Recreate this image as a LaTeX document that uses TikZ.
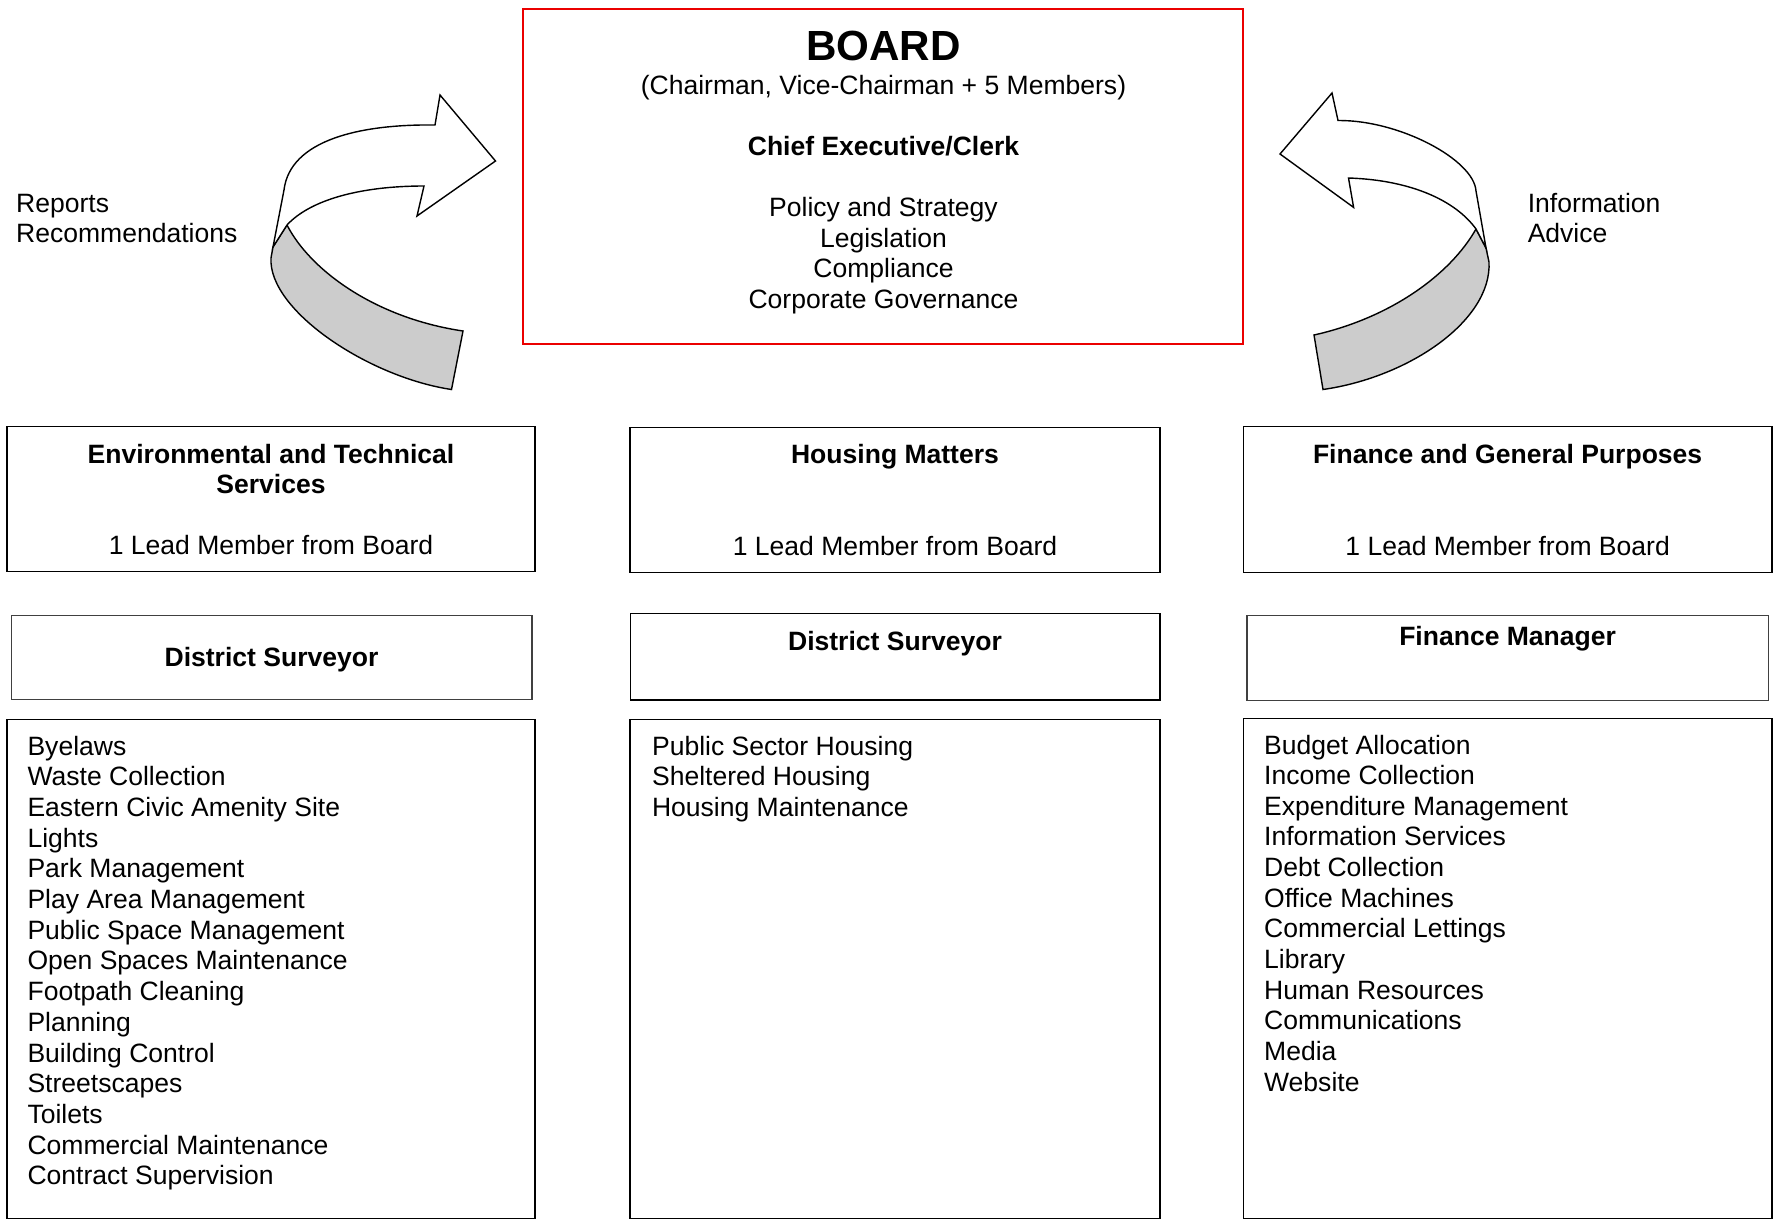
\documentclass[tikz,border=0pt]{standalone}
\usepackage{fontspec}
\setmainfont{Liberation Sans}
\usetikzlibrary{fit}
\definecolor{bandgray}{RGB}{204,204,204}
\definecolor{boardred}{RGB}{235,0,0}
\begin{document}
\begin{tikzpicture}[x=0.02cm,y=-0.02cm,
  frame/.style={draw=black,line width=0.9pt,inner sep=0pt},
  thinframe/.style={draw=black!75,line width=0.8pt,inner sep=0pt},
  boardframe/.style={draw=boardred,line width=1.4pt,inner sep=0pt},
  txt/.style={font=\fontsize{15.1}{17.4}\selectfont,inner sep=0pt,anchor=base},
  btxt/.style={txt,font=\fontsize{15.1}{17.4}\selectfont\bfseries},
  item/.style={txt,anchor=base west},
  band/.style={draw=black,line width=0.8pt,line join=miter}]
\useasboundingbox (0,0) rectangle (1774,1224);

% ---- Board ----
\node[boardframe,fit={(523,9) (1243,344)}] (board) {};
\node[txt,font=\fontsize{24}{28}\selectfont\bfseries] (boardtitle) at (883.5,60) {BOARD};
\node[txt] (boardsub) at (883.5,94.5) {(Chairman, Vice-Chairman + 5 Members)};
\node[btxt] (ceo) at (883.5,155.5) {Chief Executive/Clerk};
\node[txt] (duty1) at (883.5,216.5) {Policy and Strategy};
\node[txt] (duty2) at (883.5,247) {Legislation};
\node[txt] (duty3) at (883.5,277.5) {Compliance};
\node[txt] (duty4) at (883.5,308.5) {Corporate Governance};

% ---- Side labels ----
\node[item] (rep1) at (15.8,212.5) {Reports};
\node[item] (rep2) at (15.8,242) {Recommendations};
\node[item] (inf1) at (1527.4,212.5) {Information};
\node[item] (inf2) at (1527.4,242) {Advice};

% ---- Upward arrow (left) ----
\path[band,fill=bandgray]
  (287,225) .. controls (310,270) and (375,318) .. (463,331)
  -- (451.5,389.5)
  .. controls (368,377) and (268,310) .. (271,258)
  -- (273,247) -- cycle;
\path[band,fill=white]
  (273,247) -- (284,190)
  .. controls (290,140) and (360,124) .. (435,125)
  -- (440,95) -- (495.5,161) -- (417,216) -- (424,186)
  .. controls (360,186) and (310,200) .. (287,225) -- cycle;

% ---- Downward arrow (right) ----
\path[band,fill=bandgray]
  (1476,229) .. controls (1450,275) and (1390,318) .. (1314,335)
  -- (1323,389.5)
  .. controls (1410,377) and (1492,320) .. (1489,262)
  -- (1486,248) -- cycle;
\path[band,fill=white]
  (1486,248) -- (1476,191)
  .. controls (1474,160) and (1400,120) .. (1338,120.5)
  -- (1332,93) -- (1280,154) -- (1353.6,207.4) -- (1348.5,178)
  .. controls (1410,180) and (1455,200) .. (1476,229) -- cycle;

% ---- Committees ----
\node[frame,fit={(6.8,426.5) (535.1,571.4)}] (env) {};
\node[btxt] (envt1) at (271,463) {Environmental and Technical};
\node[btxt] (envt2) at (271,493.5) {Services};
\node[txt] (envl) at (271,554.5) {1 Lead Member from Board};

\node[frame,fit={(630.2,427.7) (1159.7,572.5)}] (hous) {};
\node[btxt] (houst) at (895,463) {Housing Matters};
\node[txt] (housl) at (895,555.8) {1 Lead Member from Board};

\node[frame,fit={(1243.4,426.5) (1771.8,572.5)}] (fin) {};
\node[btxt] (fint) at (1507.6,463) {Finance and General Purposes};
\node[txt] (finl) at (1507.6,555.8) {1 Lead Member from Board};

% ---- Officers ----
\node[thinframe,fit={(11.3,615.6) (531.8,699.5)}] (envo) {};
\node[btxt] (envot) at (271.5,666.5) {District Surveyor};

\node[frame,fit={(630.6,613.3) (1159.7,700)}] (houso) {};
\node[btxt] (housot) at (895,650.7) {District Surveyor};

\node[thinframe,fit={(1246.8,615.5) (1768.4,700.3)}] (fino) {};
\node[btxt] (finot) at (1507.6,645) {Finance Manager};

% ---- Responsibilities ----
\node[frame,fit={(6.8,719.6) (535.1,1218.5)}] (envr) {};
\foreach \t [count=\i] in {Byelaws,Waste Collection,Eastern Civic Amenity Site,Lights,
  Park Management,Play Area Management,Public Space Management,Open Spaces Maintenance,
  Footpath Cleaning,Planning,Building Control,Streetscapes,Toilets,
  Commercial Maintenance,Contract Supervision}
  \node[item] (envr\i) at (27.2,{755+(\i-1)*30.7}) {\t};

\node[frame,fit={(630.2,719.6) (1159.7,1218.5)}] (housr) {};
\foreach \t [count=\i] in {Public Sector Housing,Sheltered Housing,Housing Maintenance}
  \node[item] (housr\i) at (651.7,{755+(\i-1)*30.7}) {\t};

\node[frame,fit={(1243.4,718.4) (1771.8,1218.5)}] (finr) {};
\foreach \t [count=\i] in {Budget Allocation,Income Collection,Expenditure Management,
  Information Services,Debt Collection,Office Machines,Commercial Lettings,Library,
  Human Resources,Communications,Media,Website}
  \node[item] (finr\i) at (1263.8,{754+(\i-1)*30.65}) {\t};
\end{tikzpicture}
\end{document}
